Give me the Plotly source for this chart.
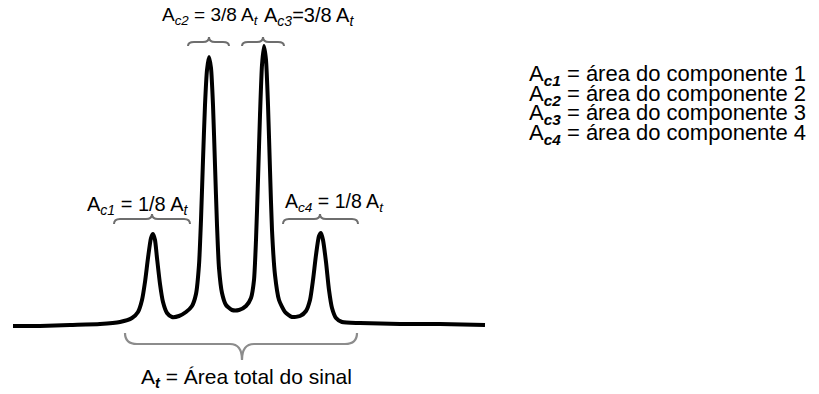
import plotly.graph_objects as go

# Hand-traced quartet signal (position, intensity above baseline)
signal_x = [13, 40, 70, 100, 120, 132, 138, 142, 145, 148, 151, 153, 155, 157, 160, 163, 167,
            172, 179, 186, 192, 196, 199, 201, 203, 205, 207, 209, 211, 213, 215, 217, 219,
            222, 226, 232, 239, 246, 251, 254, 256, 258, 260, 262, 264, 266, 268, 270, 272,
            275, 279, 285, 292, 300, 306, 310, 313, 316, 319, 321, 323, 326, 329, 332, 336,
            342, 360, 400, 440, 485]
signal_y = [-1, -1, 0, 1, 3, 7, 13, 25, 43, 67, 87, 91, 85, 67, 41, 23, 12,
            8, 9, 13, 19, 31, 60, 105, 165, 220, 255, 268, 257, 220, 160, 100, 57,
            32, 20, 15, 15, 19, 27, 45, 85, 145, 210, 260, 279, 265, 220, 155, 95,
            50, 25, 13, 8, 9, 14, 25, 45, 70, 89, 92, 85, 63, 35, 17, 7,
            3, 2, 1, 1, 0]

# Component positions and their share of the total area
peak_x = [152, 209, 263, 320]
peak_labels = ["A<sub><i>c1</i></sub> = 1/8 A<sub><i>t</i></sub>",
               "A<sub><i>c2</i></sub> = 3/8 A<sub><i>t</i></sub>",
               "A<sub><i>c3</i></sub>=3/8 A<sub><i>t</i></sub>",
               "A<sub><i>c4</i></sub> = 1/8 A<sub><i>t</i></sub>"]
legend_lines = ["A<sub><b><i>c1</i></b></sub> = área do componente 1",
                "A<sub><b><i>c2</i></b></sub> = área do componente 2",
                "A<sub><b><i>c3</i></b></sub> = área do componente 3",
                "A<sub><b><i>c4</i></b></sub> = área do componente 4"]
total_label = "A<sub><b><i>t</i></b></sub> = Área total do sinal"

FONT = "Liberation Sans, Arial, Helvetica, sans-serif"
BASE = 325  # pixel row of the baseline
W, H = 819, 394


def py(v):
    """Convert a pixel row into the intensity axis."""
    return BASE - v


def brace(x1, x2, xm, y_end, y_bar, y_tip, r):
    return (f"M {x1},{y_end} Q {x1},{y_bar} {x1 + r},{y_bar} "
            f"L {xm - r},{y_bar} Q {xm},{y_bar} {xm},{y_tip} "
            f"Q {xm},{y_bar} {xm + r},{y_bar} "
            f"L {x2 - r},{y_bar} Q {x2},{y_bar} {x2},{y_end}")


fig = go.Figure()
fig.add_trace(go.Scatter(
    x=signal_x, y=signal_y, mode="lines",
    line=dict(color="black", width=4, shape="spline", smoothing=0.6),
    hoverinfo="skip", showlegend=False))

# Braces over each component: (left, right, end row, bar row, tip row)
small_braces = [(114, 190, 224, 219, 214),
                (188, 229, 46, 42, 37),
                (242, 284, 46, 42, 37),
                (283, 358, 224, 219, 214)]
shapes = []
for px, (x1, x2, ye, yb, yt) in zip(peak_x, small_braces):
    shapes.append(dict(type="path", xref="x", yref="y",
                       path=brace(x1, x2, px, py(ye), py(yb), py(yt), 6),
                       line=dict(color="#6e6e6e", width=2)))
# Brace under the whole signal
shapes.append(dict(type="path", xref="x", yref="y",
                   path=brace(125, 357, 242, py(333), py(344), py(360), 12),
                   line=dict(color="#8c8c8c", width=2.2)))

annotations = []
label_pos = [(138, 205), (210, 16), (309, 16), (334, 202)]
label_size = [20, 19, 20, 19.5]
for text, (ax, ay), fs in zip(peak_labels, label_pos, label_size):
    annotations.append(dict(x=ax, y=py(ay), text=text, showarrow=False,
                            xanchor="center", yanchor="middle",
                            font=dict(family=FONT, size=fs, color="black")))
for i, text in enumerate(legend_lines):
    annotations.append(dict(x=527, y=py(75 + 19.7 * i), text=text, showarrow=False,
                            xanchor="left", yanchor="middle",
                            font=dict(family=FONT, size=22, color="black")))
annotations.append(dict(x=246, y=py(378), text=total_label, showarrow=False,
                        xanchor="center", yanchor="middle",
                        font=dict(family=FONT, size=21, color="black")))

fig.update_layout(
    width=W, height=H, margin=dict(l=0, r=0, t=0, b=0),
    paper_bgcolor="white", plot_bgcolor="white",
    xaxis=dict(range=[0, W], visible=False, fixedrange=True),
    yaxis=dict(range=[BASE - H, BASE], visible=False, fixedrange=True),
    shapes=shapes, annotations=annotations, showlegend=False)

fig.write_html("out.html")
